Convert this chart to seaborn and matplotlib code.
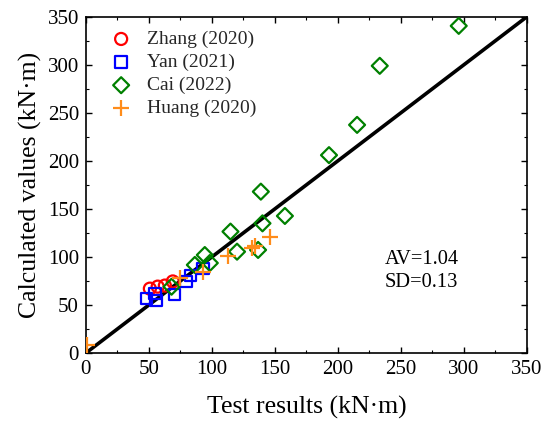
import matplotlib
matplotlib.use("Agg")
import matplotlib.pyplot as plt
import seaborn as sns
import pandas as pd
from matplotlib.ticker import MultipleLocator

sns.set_theme(style="white")
plt.rcParams['font.family'] = ['Liberation Serif', 'DejaVu Serif']

# Data
zhang_x = [50.8, 57.0, 62.7, 69.0]
zhang_y = [67.0, 69.1, 70.2, 74.5]

yan_x = [48.4, 54.8, 55.6, 70.6, 79.4, 83.3, 92.9]
yan_y = [56.4, 61.7, 54.3, 60.6, 74.5, 80.9, 88.3]

cai_x = [68.0, 86.5, 94.4, 98.4, 114.8, 120.0, 136.7, 140.2, 138.9, 158.0, 193.0, 215.3, 233.3, 296.0]
cai_y = [69.0, 91.7, 102.0, 93.7, 126.4, 105.5, 107.3, 135.0, 168.0, 142.7, 206.0, 237.5, 299.0, 340.6]

huang_x = [0.5, 74.6, 93.0, 113.0, 132.0, 134.5, 146.0]
huang_y = [8.0, 77.8, 84.7, 101.5, 109.0, 111.5, 121.0]

line_x = [0, 350]
line_y = [0, 350]

series = [
    ("Zhang (2020)", zhang_x, zhang_y, "o", "#FF0000", 75),
    ("Yan (2021)", yan_x, yan_y, "s", "#0000FF", 66),
    ("Cai (2022)", cai_x, cai_y, "D", "#008000", 66),
    ("Huang (2020)", huang_x, huang_y, "+", "#FF8C1A", 130),
]

fig = plt.figure(figsize=(5.47, 4.21), dpi=100)
ax = fig.add_axes([0.157, 0.1615, 0.806, 0.7985])

sns.lineplot(x=line_x, y=line_y, color="black", linewidth=2.6, ax=ax, zorder=3)

for name, xs, ys, m, c, s in series:
    df = pd.DataFrame({"x": xs, "y": ys})
    if m == "+":
        sns.scatterplot(data=df, x="x", y="y", marker=m, color=c, s=s,
                        linewidth=1.6, ax=ax, label=name, zorder=4)
    else:
        sns.scatterplot(data=df, x="x", y="y", marker=m, facecolors="none",
                        edgecolor=c, s=s, linewidth=1.6, ax=ax, label=name, zorder=4)

ax.set_xlim(0, 350)
ax.set_ylim(0, 350)
ax.xaxis.set_major_locator(MultipleLocator(50))
ax.yaxis.set_major_locator(MultipleLocator(50))
ax.xaxis.set_minor_locator(MultipleLocator(25))
ax.yaxis.set_minor_locator(MultipleLocator(25))
ax.tick_params(which="both", direction="in", top=True, right=True,
               bottom=True, left=True, colors="black", labelsize=15)
ax.tick_params(which="major", length=4.5, width=1, pad=5)
ax.tick_params(which="minor", length=2.5, width=0.8)
for sp in ax.spines.values():
    sp.set_color("black")
    sp.set_linewidth(1.2)

ax.set_xlabel("Test results (kN·m)", fontsize=18.5, color="black", labelpad=12)
ax.set_ylabel("Calculated values (kN·m)", fontsize=18.5, color="black", labelpad=4)

ax.text(0.677, 0.18, "AV=1.04\nSD=0.13", transform=ax.transAxes,
        fontsize=14.7, color="black", va="bottom", ha="left", linespacing=1.3)

leg = ax.legend(loc="upper left", frameon=False, fontsize=14,
                handletextpad=0.35, labelspacing=0.28, borderaxespad=0.3,
                bbox_to_anchor=(0.005, 1.0))

fig.savefig("out.png", dpi=100)
